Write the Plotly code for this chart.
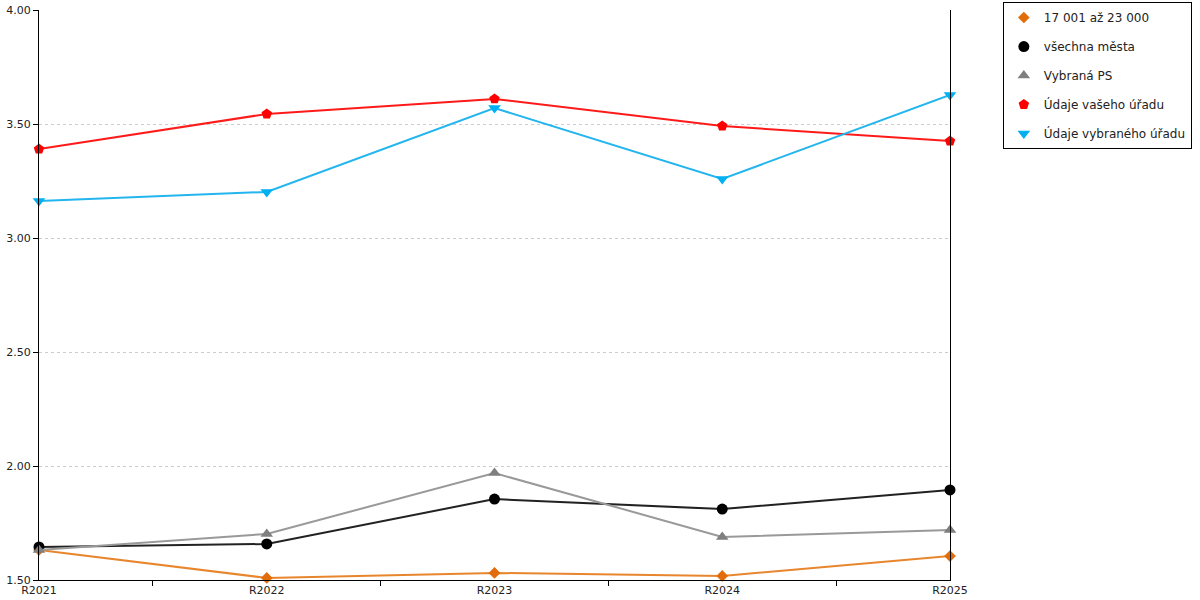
import plotly.graph_objects as go

categories = ["R2021", "R2022", "R2023", "R2024", "R2025"]

names = ["17 001 až 23 000", "všechna města", "Vybraná PS", "Údaje vašeho úřadu", "Údaje vybraného úřadu"]
s_size = [1.632, 1.509, 1.531, 1.518, 1.605]
s_all = [1.645, 1.658, 1.855, 1.811, 1.895]
s_ps = [1.632, 1.702, 1.969, 1.689, 1.719]
s_your = [3.390, 3.544, 3.610, 3.491, 3.425]
s_sel = [3.162, 3.202, 3.570, 3.259, 3.627]

y_ticks = [1.5, 2.0, 2.5, 3.0, 3.5, 4.0]

series = [s_size, s_all, s_ps, s_your, s_sel]
line_colors = ["#E8862E", "#222222", "#999999", "#FF1A1A", "#22B5EE"]
marker_colors = ["#E36C0A", "#000000", "#7F7F7F", "#FF0000", "#00B0F0"]
symbols = ["diamond", "circle", "triangle-up", "pentagon", "triangle-down"]
sizes = [9, 11, 11, 11, 11]

fig = go.Figure()
for i, (nm, vals) in enumerate(zip(names, series)):
    fig.add_trace(go.Scatter(
        x=categories, y=vals, name=nm, mode="lines+markers",
        line=dict(color=line_colors[i], width=2),
        marker=dict(color=marker_colors[i], symbol=symbols[i], size=sizes[i]),
        legendgroup=str(i), showlegend=False, cliponaxis=False,
    ))
# marker-only legend entries
for i, nm in enumerate(names):
    fig.add_trace(go.Scatter(
        x=[None], y=[None], name=nm, mode="markers",
        marker=dict(color=marker_colors[i], symbol=symbols[i], size=sizes[i]),
        legendgroup=str(i), showlegend=True,
    ))

fig.update_layout(
    width=1200, height=600,
    margin=dict(l=39, r=250, t=10, b=20, autoexpand=False),
    paper_bgcolor="white", plot_bgcolor="white",
    font=dict(family="DejaVu Sans", size=11, color="#222222"),
    showlegend=True,
    legend=dict(
        x=1.058, y=1.014, xanchor="left", yanchor="top",
        bordercolor="#000000", borderwidth=1,
        font=dict(size=12, color="#222222"),
        tracegroupgap=10,
    ),
    xaxis=dict(
        type="category", range=[0, 4], tickson="boundaries",
        ticks="outside", ticklen=5, tickcolor="#000000",
        showline=True, linecolor="#000000", linewidth=1,
        showgrid=False, zeroline=False, mirror=False,
        tickfont=dict(size=11), automargin=False,
    ),
    yaxis=dict(
        range=[1.5, 4.0], tickvals=y_ticks, tickformat=".2f",
        ticks="outside", ticklen=5, tickcolor="#000000",
        showline=True, linecolor="#000000", linewidth=1, mirror=True,
        showgrid=True, gridcolor="#CCCCCC", griddash="dot", gridwidth=1,
        zeroline=False, tickfont=dict(size=11), automargin=False,
    ),
)

fig.write_html(
    "out.html",
    config={"displayModeBar": False},
    post_script="document.body.style.margin='0px';document.body.style.overflow='hidden';",
)
